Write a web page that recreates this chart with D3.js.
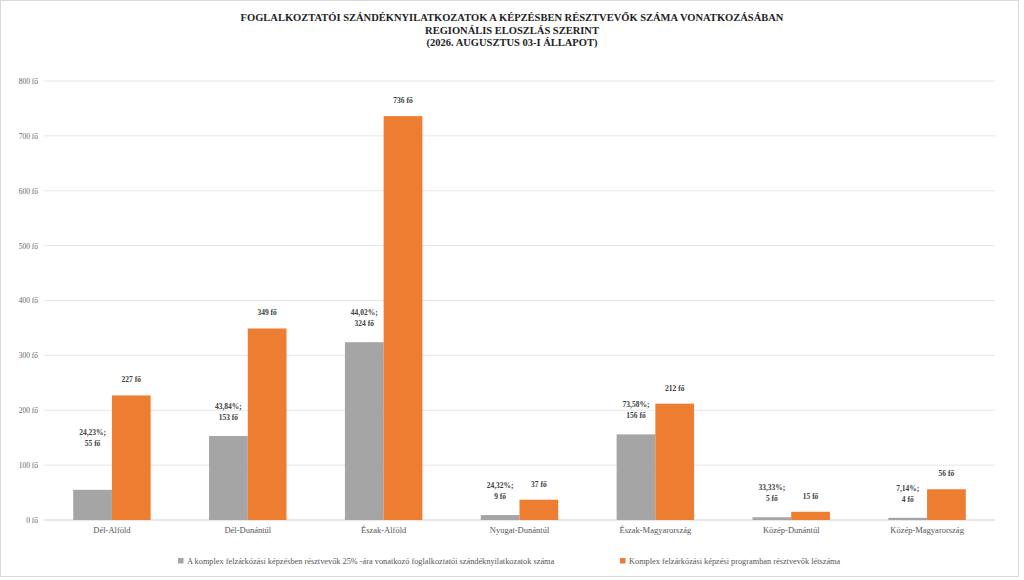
<!DOCTYPE html>
<html>
<head>
<meta charset="utf-8">
<script src="https://cdn.jsdelivr.net/npm/d3@7"></script>
<style>
  body { margin: 0; background: #fff; }
  svg text { font-family: "Liberation Serif", "DejaVu Serif", serif; }
</style>
</head>
<body>
<svg id="chart" width="1024" height="580"></svg>
<script>
// regions and values
var regions = ["Dél-Alföld", "Dél-Dunántúl", "Észak-Alföld", "Nyugat-Dunántúl",
  "Észak-Magyarország", "Közép-Dunántúl", "Közép-Magyarország"];
var declarations = [55, 153, 324, 9, 156, 5, 4];
var participants = [227, 349, 736, 37, 212, 15, 56];
var shares = ["24,23%", "43,84%", "44,02%", "24,32%", "73,58%", "33,33%", "7,14%"];
var yTicks = [0, 100, 200, 300, 400, 500, 600, 700, 800];
var seriesNames = [
  "A  komplex felzárkózási képzésben résztvevők 25% -ára vonatkozó foglalkoztatói szándéknyilatkozatok száma",
  "Komplex felzárkózási képzési programban résztvevők létszáma"
];
var titleLines = [
  "FOGLALKOZTATÓI SZÁNDÉKNYILATKOZATOK A KÉPZÉSBEN RÉSZTVEVŐK SZÁMA VONATKOZÁSÁBAN",
  "REGIONÁLIS ELOSZLÁS SZERINT",
  "(2026. AUGUSZTUS 03-I ÁLLAPOT)"
];
var colors = ["#a5a5a5", "#ed7d31"];

var svg = d3.select("#chart");
var margin = { left: 44, right: 29, top: 81, bottom: 60 };
var width = 1024, height = 580;

// outer frame
svg.append("rect")
  .attr("x", 0.5).attr("y", 0.5)
  .attr("width", width - 6).attr("height", height - 4)
  .attr("fill", "#fff").attr("stroke", "#d9d9d9");

// title
svg.selectAll(".title").data(titleLines).join("text")
  .attr("class", "title")
  .attr("x", 512)
  .attr("y", function (d, i) { return 21 + i * 12.5; })
  .attr("text-anchor", "middle")
  .attr("font-size", 10.5)
  .attr("font-weight", "bold")
  .attr("fill", "#222")
  .text(function (d) { return d; });

var x = d3.scaleBand().domain(regions)
  .range([margin.left, width - margin.right]).paddingInner(0.43).paddingOuter(0.215);
var y = d3.scaleLinear().domain([0, 800]).range([height - margin.bottom, margin.top]);
var bw = x.bandwidth() / 2;

// grid
svg.selectAll(".grid").data(yTicks).join("line")
  .attr("class", "grid")
  .attr("x1", margin.left).attr("x2", width - margin.right)
  .attr("y1", function (d) { return y(d); }).attr("y2", function (d) { return y(d); })
  .attr("stroke", function (d) { return d === 0 ? "#d0d0d0" : "#e6e6e6"; })
  .attr("stroke-width", 1);

// y axis labels
var yAxis = d3.axisLeft(y).tickValues(yTicks).tickSize(0).tickPadding(6)
  .tickFormat(function (d) { return d + " fő"; });
var yg = svg.append("g").attr("transform", "translate(" + margin.left + ",0)").call(yAxis);
yg.select(".domain").remove();
yg.selectAll("text").attr("font-size", 7.5).attr("fill", "#666")
  .style("font-family", "Liberation Serif, serif");

// x axis labels
var xAxis = d3.axisBottom(x).tickSize(0).tickPadding(7);
var xg = svg.append("g").attr("transform", "translate(0," + y(0) + ")").call(xAxis);
xg.select(".domain").remove();
xg.selectAll("text").attr("font-size", 8.5).attr("fill", "#555")
  .style("font-family", "Liberation Serif, serif");

// bars
svg.selectAll(".bar-g").data(declarations).join("rect")
  .attr("class", "bar-g")
  .attr("x", function (d, i) { return x(regions[i]); })
  .attr("y", function (d) { return y(d); })
  .attr("width", bw)
  .attr("height", function (d) { return y(0) - y(d); })
  .attr("fill", colors[0]);

svg.selectAll(".bar-o").data(participants).join("rect")
  .attr("class", "bar-o")
  .attr("x", function (d, i) { return x(regions[i]) + bw; })
  .attr("y", function (d) { return y(d); })
  .attr("width", bw)
  .attr("height", function (d) { return y(0) - y(d); })
  .attr("fill", colors[1]);

// labels
svg.selectAll(".lab-o").data(participants).join("text")
  .attr("class", "lab-o")
  .attr("x", function (d, i) { return x(regions[i]) + bw * 1.5; })
  .attr("y", function (d) { return y(d) - 13; })
  .attr("text-anchor", "middle")
  .attr("font-size", 7.5).attr("font-weight", "bold").attr("fill", "#404040")
  .text(function (d) { return d + " fő"; });

var labG = svg.selectAll(".lab-g").data(declarations).join("text")
  .attr("class", "lab-g")
  .attr("text-anchor", "middle")
  .attr("font-size", 7.5).attr("font-weight", "bold").attr("fill", "#404040");
labG.each(function (d, i) {
  var t = d3.select(this);
  var cx = x(regions[i]) + bw / 2;
  var base = Math.min(y(d) - 16, y(0) - 14);
  if (i === 0) base = y(d) - 44;
  t.append("tspan").attr("x", cx).attr("y", base - 11).text(shares[i] + ";");
  t.append("tspan").attr("x", cx).attr("y", base).text(d + " fő");
});

// legend
var legendX = [178, 620];
var lg = svg.selectAll(".legend").data(seriesNames).join("g")
  .attr("class", "legend")
  .attr("transform", function (d, i) { return "translate(" + legendX[i] + ",564)"; });
lg.append("rect").attr("x", 0).attr("y", -6).attr("width", 5.5).attr("height", 5.5)
  .attr("fill", function (d, i) { return colors[i]; });
lg.append("text").attr("x", 9).attr("y", 0)
  .attr("font-size", 8.3).attr("fill", "#555")
  .text(function (d) { return d; });
</script>
</body>
</html>
